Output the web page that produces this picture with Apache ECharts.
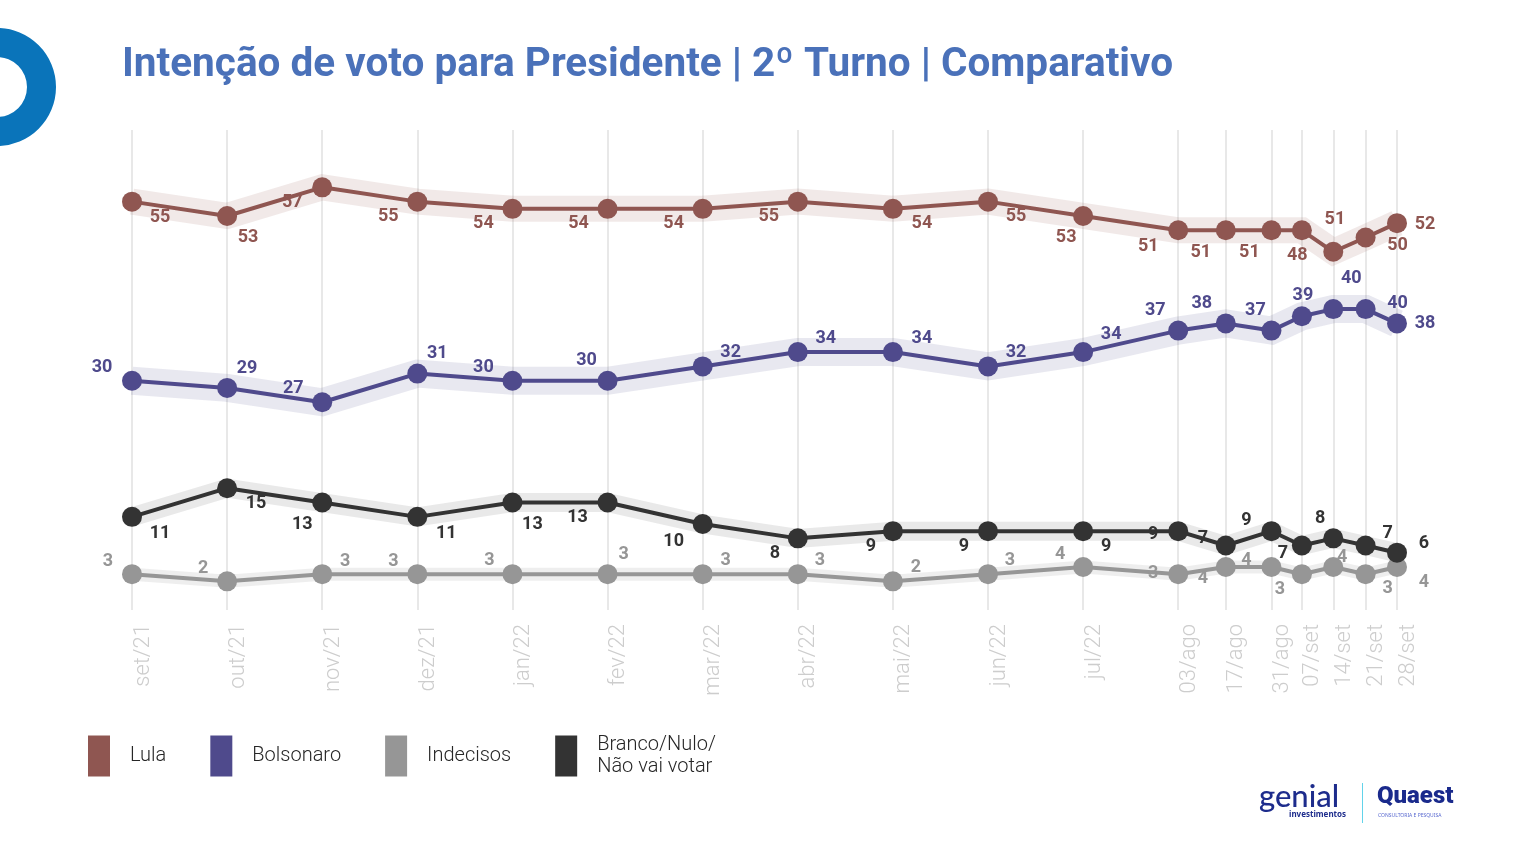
<!DOCTYPE html>
<html>
<head>
<meta charset="utf-8">
<script src="https://cdn.jsdelivr.net/npm/echarts@6/dist/echarts.min.js"></script>
<style>
  html, body { margin: 0; padding: 0; background: #fff; }
  #chart { width: 1534px; height: 862px; }
</style>
</head>
<body>
<div id="chart"></div>
<script>
// rodadas da pesquisa (mensais e depois semanais)
const periodos = ['set/21', 'out/21', 'nov/21', 'dez/21', 'jan/22', 'fev/22', 'mar/22', 'abr/22', 'mai/22', 'jun/22', 'jul/22',
  '03/ago', '17/ago', '31/ago', '07/set', '14/set', '21/set', '28/set']
// posição no eixo do tempo, em meses a partir de set/21
const xTempo = [0, 1, 2, 3, 4, 5, 6, 7, 8, 9, 10, 11, 11.5, 11.98, 12.3, 12.63, 12.97, 13.3]

const lula = [55, 53, 57, 55, 54, 54, 54, 55, 54, 55, 53, 51, 51, 51, 51, 48, 50, 52]
const bolsonaro = [30, 29, 27, 31, 30, 30, 32, 34, 34, 32, 34, 37, 38, 37, 39, 40, 40, 38]
const indecisos = [3, 2, 3, 3, 3, 3, 3, 3, 2, 3, 4, 3, 4, 4, 3, 4, 3, 4]
const brancoNulo = [11, 15, 13, 11, 13, 13, 10, 8, 9, 9, 9, 9, 7, 9, 7, 8, 7, 6]

// deslocamento dos rótulos (px) em relação a cada ponto
const rotLula = [[28, 16], [21, 22], [-30, 15], [-29, 15], [-29, 15], [-29, 15], [-29, 15], [-29, 15], [29, 15], [28, 15],
  [-17, 22], [-30, 16], [-25, 22], [-22, 22], [33, -11], [-36, 4], [32, 8], [28, 1]]
const rotBolsonaro = [[-30, -13], [20, -19], [-29, -14], [20, -20], [-29, -13], [-21, -20], [28, -14], [28, -14], [29, -14], [28, -14],
  [28, -18], [-23, -20], [-24, -20], [-16, -20], [1, -21], [18, -31], [32, -6], [28, 0]]
const rotIndecisos = [[-24, -13], [-24, -13], [23, -13], [-24, -13], [-23, -14], [16, -20], [23, -14], [22, -14], [23, -14], [22, -14],
  [-23, -13], [-25, -1], [-23, 11], [-25, -7], [-22, 15], [9, -10], [22, 14], [27, 15]]
const rotBranco = [[28, 17], [29, 15], [-20, 22], [29, 17], [20, 22], [-30, 15], [-29, 17], [-23, 15], [-22, 15], [-24, 15],
  [23, 15], [-25, 3], [-23, -7], [-25, -11], [-19, 8], [-13, -20], [22, -12], [27, -9]]

const FONTE = 'Roboto, "Noto Sans", sans-serif'

const grupos = [
  { nome: 'Lula', valores: lula, rot: rotLula, cor: '#8f5651', faixa: 'rgba(143,86,81,0.13)', larg: 26 },
  { nome: 'Bolsonaro', valores: bolsonaro, rot: rotBolsonaro, cor: '#4f4a8c', faixa: 'rgba(79,74,140,0.13)', larg: 28 },
  { nome: 'Indecisos', valores: indecisos, rot: rotIndecisos, cor: '#969696', faixa: 'rgba(150,150,150,0.16)', larg: 13 },
  { nome: 'Branco/Nulo/\nNão vai votar', valores: brancoNulo, rot: rotBranco, cor: '#333333', faixa: 'rgba(51,51,51,0.11)', larg: 19 }
]

const pontos = (valores) => valores.map((v, i) => [xTempo[i], v])

const faixas = grupos.map((g, k) => ({
  name: 'faixa' + k,
  type: 'line',
  data: pontos(g.valores),
  symbol: 'none',
  silent: true,
  z: 1,
  lineStyle: { color: g.faixa, width: g.larg, join: 'miter' },
  markLine: k === 0 ? {
    silent: true,
    z: 0,
    symbol: 'none',
    label: { show: false },
    lineStyle: { color: '#e8e8e8', width: 2, type: 'solid' },
    data: xTempo.map(x => ({ xAxis: x }))
  } : undefined
}))

const linhas = grupos.map(g => ({
  name: g.nome,
  type: 'line',
  z: 3,
  symbol: 'circle',
  symbolSize: 20,
  showAllSymbol: true,
  itemStyle: { color: g.cor },
  lineStyle: { color: g.cor, width: 4 },
  data: g.valores.map((v, i) => ({
    value: [xTempo[i], v],
    label: { offset: g.rot[i] }
  })),
  label: {
    show: true,
    position: 'inside',
    color: g.cor,
    fontSize: 18,
    fontWeight: 'bold',
    fontFamily: FONTE,
    textBorderWidth: 0,
    formatter: p => p.value[1]
  }
}))

const rotuloX = (v) => {
  let melhor = 0
  xTempo.forEach((x, i) => { if (Math.abs(x - v) < Math.abs(xTempo[melhor] - v)) melhor = i })
  return periodos[melhor]
}

const chart = echarts.init(document.getElementById('chart'))
chart.setOption({
  animation: false,
  backgroundColor: '#fff',
  title: {
    text: 'Intenção de voto para Presidente | 2º Turno | Comparativo',
    left: 117,
    top: 40,
    textStyle: { color: '#4a71b9', fontSize: 40.5, fontWeight: 'bold', fontFamily: FONTE }
  },
  legend: {
    data: grupos.map(g => g.nome),
    left: 88,
    top: 734,
    padding: 0,
    icon: 'rect',
    itemWidth: 22,
    itemHeight: 41,
    itemGap: 44,
    textStyle: { fontSize: 20, color: '#262626', fontWeight: 300, fontFamily: FONTE, lineHeight: 22, padding: [0, 0, 0, 15] }
  },
  grid: { left: 132, right: 137, top: 130, bottom: 252 },
  xAxis: {
    type: 'value',
    min: 0,
    max: 13.3,
    axisLine: { show: false },
    axisTick: { show: false },
    splitLine: { show: false },
    axisLabel: {
      customValues: xTempo,
      showMinLabel: true,
      showMaxLabel: true,
      rotate: 90,
      margin: 14,
      verticalAlign: 'top',
      color: '#cdcdcd',
      fontSize: 22,
      fontWeight: 300,
      fontFamily: FONTE,
      formatter: rotuloX
    }
  },
  yAxis: { type: 'value', min: -2, max: 65, show: false },
  series: [...faixas, ...linhas],
  graphic: [
    { type: 'ring', shape: { cx: -3, cy: 87, r: 59, r0: 30 }, style: { fill: '#0a74ba' } },
    { type: 'text', left: 1259, top: 781, style: { text: 'genial', fill: '#1d2c8c', font: '500 31px Lato, "Noto Sans", sans-serif' } },
    { type: 'text', left: 1289, top: 811, style: { text: 'investimentos', fill: '#1d2c8c', font: 'bold 8px "Noto Sans", sans-serif' } },
    { type: 'rect', shape: { x: 1362, y: 783, width: 1, height: 40 }, style: { fill: '#62d3ea' } },
    { type: 'text', left: 1377, top: 785, style: { text: 'Quaest', fill: '#1a2a8c', font: '900 24px Roboto, sans-serif' } },
    { type: 'text', left: 1378, top: 813, style: { text: 'CONSULTORIA E PESQUISA', fill: '#5a6ad0', font: '5px "Noto Sans", sans-serif' } }
  ]
})
</script>
</body>
</html>
